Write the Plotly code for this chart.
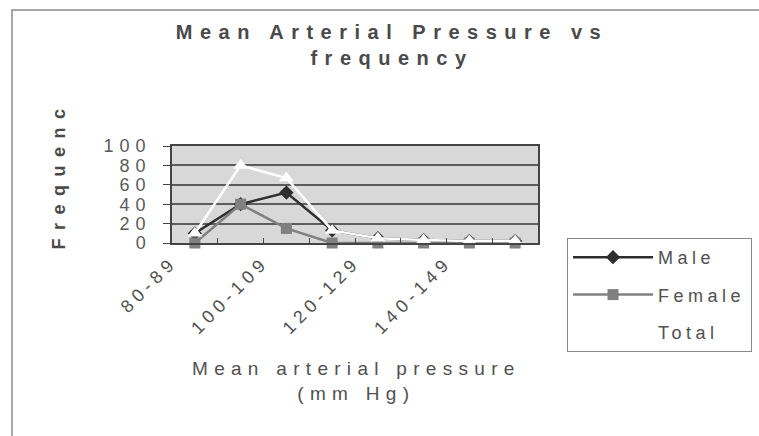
import plotly.graph_objects as go

# ---- data ----
categories = ["80-89", "90-99", "100-109", "110-119", "120-129", "130-139", "140-149", "150-159"]
male = [10, 40, 52, 13, 5, 3, 2, 2]
female = [0, 40, 15, 0, 0, 0, 0, 0]
total = [10, 80, 67, 13, 5, 3, 2, 2]
y_ticks = [0, 20, 40, 60, 80, 100]

title_text = "Mean Arterial Pressure vs<br>frequency"
x_title = "Mean arterial pressure<br>(mm Hg)"
y_title = "Frequenc"

xpos = list(range(len(categories)))
# labels sit on the left boundary of every other category, as in the source
bounds = [i - 0.5 for i in range(len(categories) + 1)]
bound_text = [categories[i] if (i < len(categories) and i % 2 == 0) else "" for i in range(len(categories) + 1)]

FONT = "Liberation Sans, Arial, sans-serif"
TXT = "#505050"

fig = go.Figure()
fig.add_trace(go.Scatter(
    x=xpos, y=male, name="Male", mode="lines+markers", legendgroup="m",
    line=dict(color="#2e2e2e", width=2.5),
    marker=dict(symbol="diamond", size=11, color="#2e2e2e"),
    cliponaxis=False,
))
fig.add_trace(go.Scatter(
    x=xpos, y=female, name="Female", mode="lines+markers", legendgroup="f",
    line=dict(color="#808080", width=2.5),
    marker=dict(symbol="square", size=11, color="#808080"),
    cliponaxis=False,
))
fig.add_trace(go.Scatter(
    x=xpos, y=total, name="Total", mode="lines+markers", legendgroup="t",
    line=dict(color="#ffffff", width=2.5),
    marker=dict(symbol="triangle-up", size=13, color="#ffffff"),
    cliponaxis=False,
))

L, R, T, B = 172, 221, 146, 193
W, H = 759, 436
pw = W - L - R
ph = H - T - B


def px_x(X):
    return (X - L) / pw


def px_y(Y):
    return (H - B - Y) / ph


fig.update_layout(
    width=W, height=H,
    margin=dict(l=L, r=R, t=T, b=B, autoexpand=False),
    paper_bgcolor="white",
    plot_bgcolor="#d8d8d8",
    font=dict(family=FONT, color=TXT, size=17),
    title=dict(
        text=title_text,
        font=dict(family=FONT, size=20, color="#4a4a4a", weight="bold"),
        x=392 / W, xref="container", xanchor="center",
        y=1 - 39 / H, yref="container", yanchor="middle",
    ),
    showlegend=True,
    legend=dict(
        x=px_x(567), y=px_y(238), xanchor="left", yanchor="top",
        bgcolor="white", bordercolor="#8a8a8a", borderwidth=1,
        font=dict(family=FONT, size=18, color=TXT),
        itemwidth=80, tracegroupgap=11, traceorder="grouped",
        maxheight=300,
    ),
    xaxis=dict(
        range=[-0.5, len(categories) - 0.5],
        tickmode="array", tickvals=bounds, ticktext=bound_text,
        tickangle=-45, ticks="inside", ticklen=5, tickcolor="#444",
        showgrid=False, zeroline=False,
        showline=True, linecolor="#444", linewidth=1.5, mirror=True,
        tickfont=dict(family=FONT, size=18, color=TXT),
    ),
    yaxis=dict(
        range=[0, 100], tickmode="array", tickvals=y_ticks,
        ticks="outside", ticklen=7, tickcolor="#444",
        showgrid=True, gridcolor="#5c5c5c", gridwidth=1.5,
        zeroline=False, showline=True, linecolor="#444", linewidth=1.5, mirror=True,
        tickfont=dict(family=FONT, size=18, color="#5a5a5a"),
        ticklabelstandoff=8,
    ),
    annotations=[
        dict(text=x_title, xref="paper", yref="paper", x=px_x(356), y=px_y(381),
             xanchor="center", yanchor="middle", showarrow=False,
             font=dict(family=FONT, size=19, color=TXT)),
        dict(text=y_title, xref="paper", yref="paper", x=px_x(58), y=px_y(252),
             xanchor="center", yanchor="bottom", showarrow=False, textangle=-90,
             font=dict(family=FONT, size=18, color="#4a4a4a", weight="bold")),
    ],
    shapes=[
        dict(type="rect", xref="paper", yref="paper", layer="above",
             x0=px_x(12), x1=px_x(820), y0=px_y(470), y1=px_y(10),
             line=dict(color="#8c8c8c", width=1.5), fillcolor="rgba(0,0,0,0)"),
    ],
)

post = """
var gd = document.getElementById('{plot_id}');
var st = document.createElement('style');
st.textContent = 'body{margin:0;} text.gtitle{letter-spacing:7.5px;} '
  + 'text.annotation-text{letter-spacing:6.3px;} text.annotation-text[style*="bold"]{letter-spacing:8.5px;} '
  + 'text.legendtext{letter-spacing:4.5px;} .xtick text{letter-spacing:5px;} .ytick text{letter-spacing:6px;}';
document.head.appendChild(st);
var lay = JSON.parse(JSON.stringify(gd.layout).split('Liberation Sans, Arial, sans-serif').join('Liberation Sans, Arial, Helvetica, sans-serif'));
Plotly.newPlot(gd, gd.data, lay, {displayModeBar:false});
"""

fig.write_html("out.html", config={"displayModeBar": False}, post_script=post)
